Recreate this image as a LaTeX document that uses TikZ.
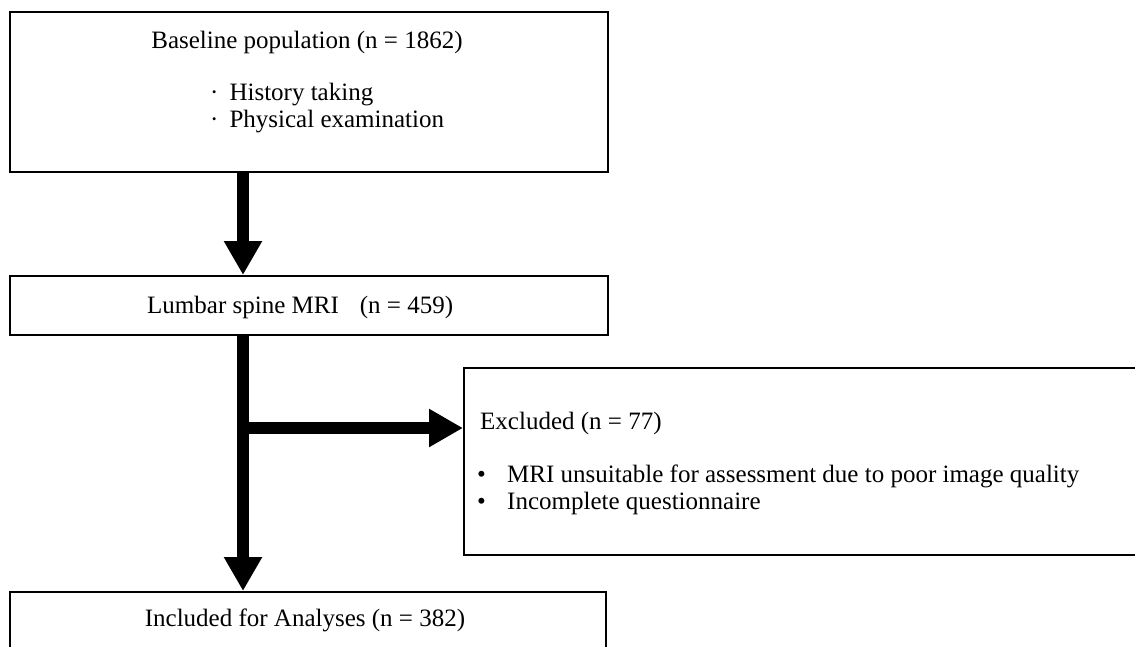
\documentclass[tikz,border=0pt]{standalone}
\usepackage{fontspec}
\setmainfont{Liberation Serif}
\usetikzlibrary{arrows.meta}
\tikzset{
  box/.style={draw=black, line width=2pt, fill=white, inner sep=0pt},
  txt/.style={inner sep=0pt, font=\fontsize{25}{30}\selectfont, anchor=base west},
  ctxt/.style={inner sep=0pt, font=\fontsize{25}{30}\selectfont, anchor=base},
  bigarrow/.style={line width=12pt, -{Triangle[width=36pt,length=34pt]}}
}
\begin{document}
\begin{tikzpicture}[x=1pt,y=-1pt]
\useasboundingbox (0,0) rectangle (1135,646);
\clip (0,0) rectangle (1135,646);
\fill[white] (0,0) rectangle (1135,646);
% boxes
\node[box, minimum width=598pt, minimum height=160pt] (top) at (309,92) {};
\node[box, minimum width=598pt, minimum height=59pt] (mri) at (309,305.5) {};
\node[box, minimum width=686pt, minimum height=187pt] (excl) at (807,461.5) {};
\node[box, minimum width=596pt, minimum height=108pt] (incl) at (308,646) {};
% texts
\node[ctxt] (t1) at (307,48) {Baseline population (n = 1862)};
\node[txt] (t1a) at (210,100) {\textperiodcentered\hspace{11pt}History taking};
\node[txt] (t1b) at (210,127) {\textperiodcentered\hspace{11pt}Physical examination};
\node[txt] (t2) at (147,313) {Lumbar spine MRI\hspace{21pt}(n = 459)};
\node[txt] (t3) at (480,429) {Excluded (n = 77)};
\node[txt] (t3a) at (477,482) {•};
\node[txt] (t3b) at (507,482) {MRI unsuitable for assessment due to poor image quality};
\node[txt] (t3c) at (477,509) {•};
\node[txt] (t3d) at (507,509) {Incomplete questionnaire};
\node[ctxt] (t4) at (305,626) {Included for Analyses (n = 382)};
% connectors
\coordinate (ax) at (243,0);
\coordinate (j) at (243,428);
\draw[bigarrow] (top.south -| ax) -- (mri.north -| ax);
\draw[bigarrow] (mri.south -| ax) -- (incl.north -| ax);
\draw[bigarrow] (j) -- (j -| excl.west);
\end{tikzpicture}
\end{document}
